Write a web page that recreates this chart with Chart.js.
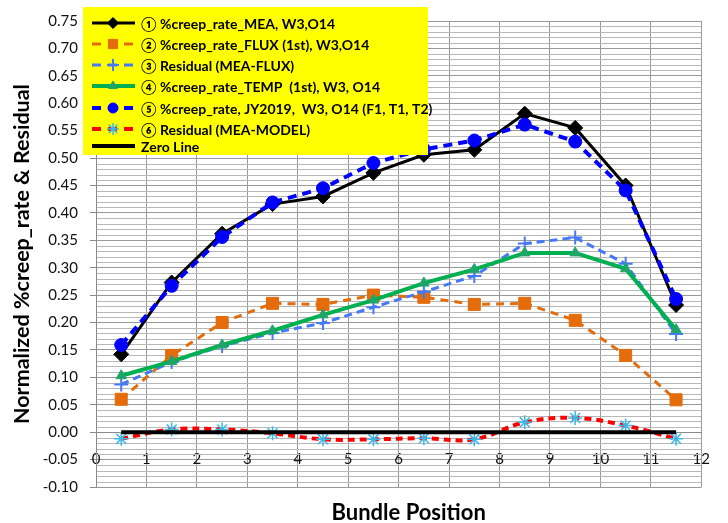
<!DOCTYPE html>
<html><head><meta charset="utf-8">
<script src="https://cdn.jsdelivr.net/npm/chart.js@4.4.1/dist/chart.umd.min.js"></script>
<style>html,body{margin:0;padding:0;background:#fff;} #wrap{width:728px;height:523px;position:relative;}</style>
</head><body><div id="wrap"><canvas id="c" width="728" height="523"></canvas></div>
<script>
// ---- data ----
const positions      = [0.5, 1.5, 2.5, 3.5, 4.5, 5.5, 6.5, 7.5, 8.5, 9.5, 10.5, 11.5];
const meaRate        = [0.142, 0.273, 0.362, 0.416, 0.430, 0.473, 0.506, 0.515, 0.581, 0.555, 0.450, 0.232];
const fluxRate       = [0.060, 0.140, 0.200, 0.235, 0.233, 0.250, 0.246, 0.233, 0.235, 0.204, 0.140, 0.059];
const residualFlux   = [0.087, 0.128, 0.157, 0.181, 0.199, 0.228, 0.256, 0.285, 0.344, 0.355, 0.307, 0.179];
const tempRate       = [0.103, 0.129, 0.159, 0.185, 0.214, 0.241, 0.272, 0.297, 0.327, 0.327, 0.298, 0.187];
const jy2019Rate     = [0.159, 0.267, 0.356, 0.419, 0.445, 0.491, 0.516, 0.532, 0.561, 0.530, 0.441, 0.243];
const residualModel  = [-0.012, 0.005, 0.005, -0.002, -0.013, -0.013, -0.011, -0.013, 0.018, 0.026, 0.012, -0.012];
const zeroLine       = [0, 0, 0, 0, 0, 0, 0, 0, 0, 0, 0, 0];
const seriesLabels = [
  '① %creep_rate_MEA, W3,O14',
  '② %creep_rate_FLUX (1st), W3,O14',
  '③ Residual (MEA-FLUX)',
  '④ %creep_rate_TEMP  (1st), W3, O14',
  '⑤ %creep_rate, JY2019,  W3, O14 (F1, T1, T2)',
  '⑥ Residual (MEA-MODEL)',
  'Zero Line'
];
const yMin = -0.10, yMax = 0.75, yMajorStep = 0.05, yMinorStep = 0.01;
const xMin = 0, xMax = 12, xStep = 1;
const xTitle = 'Bundle Position';
const yTitle = 'Normalized %creep_rate & Residual';

const FONT = 'Lato, "Open Sans", sans-serif';
const pts = arr => positions.map((x, i) => ({x, y: arr[i]}));
const minorPerMajor = Math.round(yMajorStep / yMinorStep);

const styles = [
  {borderColor:'#000000', borderWidth:3, borderDash:[], pointStyle:'rectRot', pointRadius:7.5, pointBackgroundColor:'#000000', pointBorderColor:'#000000', pointBorderWidth:1, tension:0},
  {borderColor:'#E46C0A', borderWidth:3, borderDash:[8,6], pointStyle:'rect', pointRadius:8.5, pointBackgroundColor:'#E46C0A', pointBorderColor:'#E46C0A', pointBorderWidth:1, tension:0},
  {borderColor:'#4679F5', borderWidth:3, borderDash:[8,5], pointStyle:'cross', pointRadius:7, pointBackgroundColor:'#4679F5', pointBorderColor:'#4679F5', pointBorderWidth:2, tension:0},
  {borderColor:'#00B050', borderWidth:4, borderDash:[], pointStyle:'triangle', pointRadius:6, pointBackgroundColor:'#1FA56A', pointBorderColor:'#1FA56A', pointBorderWidth:1, tension:0},
  {borderColor:'#0000FF', borderWidth:4, borderDash:[9,6], pointStyle:'circle', pointRadius:6.5, pointBackgroundColor:'#0000FF', pointBorderColor:'#0000FF', pointBorderWidth:1, tension:0},
  {borderColor:'#FF0000', borderWidth:4, borderDash:[7,5], pointStyle:'star', pointRadius:7, pointBackgroundColor:'#3CB8E8', pointBorderColor:'#3CB8E8', pointBorderWidth:1.5, tension:0.4},
  {borderColor:'#000000', borderWidth:4, borderDash:[], pointStyle:'line', pointRadius:0, pointBackgroundColor:'#000000', pointBorderColor:'#000000', pointBorderWidth:0, tension:0}
];
const seriesData = [meaRate, fluxRate, residualFlux, tempRate, jy2019Rate, residualModel, zeroLine];

const datasets = seriesData.map((arr, i) => Object.assign({
  label: seriesLabels[i],
  data: pts(arr),
  fill: false,
  order: 6 - i,
  pointHoverRadius: styles[i].pointRadius
}, styles[i]));

// minor horizontal gridlines, positioned through the y scale
const minorGridPlugin = {
  id: 'minorGrid',
  beforeDatasetsDraw(chart) {
    const ctx = chart.ctx;
    const ca = chart.chartArea;
    const ys = chart.scales.y;
    const n = Math.round((yMax - yMin) / yMinorStep);
    ctx.save();
    ctx.strokeStyle = '#b8b8b8';
    ctx.lineWidth = 1;
    ctx.beginPath();
    for (let k = 1; k < n; k++) {
      if (k % minorPerMajor === 0) continue;
      const py = Math.round(ys.getPixelForValue(yMin + k * yMinorStep)) + 0.5;
      ctx.moveTo(ca.left + 1, py);
      ctx.lineTo(ca.right, py);
    }
    ctx.stroke();
    ctx.restore();
  }
};

const legendPlugin = {
  id: 'boxLegend',
  afterDraw(chart) {
    const ctx = chart.ctx;
    ctx.save();
    ctx.fillStyle = '#FFFF00';
    ctx.fillRect(83, 7, 345, 148);
    const rowY = [23, 44, 65, 86, 108, 129, 146];
    const markerR = [5.5, 6.5, 6, 5, 5, 6, 0];
    chart.data.datasets.forEach((ds, i) => {
      const y = rowY[i];
      ctx.save();
      ctx.strokeStyle = ds.borderColor;
      ctx.lineWidth = ds.borderWidth;
      ctx.setLineDash(ds.borderDash.length ? [9, 7] : []);
      ctx.beginPath();
      ctx.moveTo(92, y);
      ctx.lineTo(135, y);
      ctx.stroke();
      ctx.setLineDash([]);
      if (markerR[i] > 0) {
        ctx.fillStyle = ds.pointBackgroundColor;
        ctx.strokeStyle = ds.pointBorderColor;
        ctx.lineWidth = ds.pointBorderWidth;
        Chart.helpers.drawPoint(ctx, {pointStyle: ds.pointStyle, radius: markerR[i], rotation: 0, borderWidth: ds.pointBorderWidth}, 113, y);
      }
      ctx.restore();
      ctx.fillStyle = '#000';
      ctx.font = 'bold 14px ' + FONT;
      ctx.textBaseline = 'middle';
      ctx.textAlign = 'left';
      ctx.fillText(ds.label, 141, y + 1);
    });
    // x axis title
    const ca = chart.chartArea;
    ctx.font = 'bold 22px ' + FONT;
    ctx.textAlign = 'center';
    ctx.textBaseline = 'middle';
    ctx.fillStyle = '#000';
    ctx.fillText(xTitle, (ca.left + ca.right) / 2 + 10, 513);
    ctx.restore();
  }
};

new Chart(document.getElementById('c'), {
  type: 'line',
  data: { datasets },
  options: {
    responsive: false,
    animation: false,
    events: [],
    layout: { padding: { top: 20, right: 11, bottom: 36, left: 0 } },
    plugins: { legend: { display: false }, tooltip: { enabled: false } },
    scales: {
      x: {
        type: 'linear',
        min: xMin, max: xMax,
        position: { y: 0 },
        ticks: { stepSize: xStep, color: '#111', font: { family: FONT, size: 15 }, padding: 18, maxRotation: 0 },
        grid: { color: '#9a9a9a', lineWidth: 1, drawTicks: false },
        border: { color: '#8a8a8a', width: 1 }
      },
      y: {
        type: 'linear',
        min: yMin, max: yMax,
        afterFit(s) { s.width = 96; },
        ticks: {
          stepSize: yMajorStep,
          autoSkip: false,
          color: '#111',
          padding: 12,
          font: { family: FONT, size: 15 },
          callback: v => (Math.abs(v) < 1e-9 ? 0 : v).toFixed(2)
        },
        grid: { color: '#999999', tickColor: '#8a8a8a', tickLength: 6, lineWidth: 1 },
        border: { color: '#8a8a8a', width: 1 },
        title: { display: true, text: yTitle, color: '#000', font: { family: FONT, size: 21.5, weight: 'bold' }, padding: { top: 9, bottom: 0 } }
      }
    }
  },
  plugins: [minorGridPlugin, legendPlugin]
});
</script>
</body></html>
